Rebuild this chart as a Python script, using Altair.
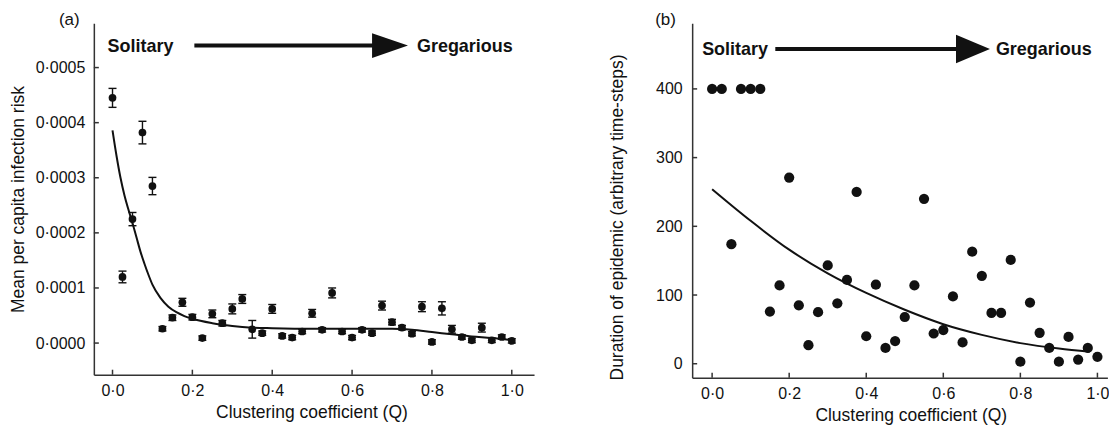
import altair as alt
import pandas as pd

# ---------------- data ----------------
clustering_q = [0.0, 0.025, 0.05, 0.075, 0.1, 0.125, 0.15, 0.175, 0.2, 0.225,
                0.25, 0.275, 0.3, 0.325, 0.35, 0.375, 0.4, 0.425, 0.45, 0.475,
                0.5, 0.525, 0.55, 0.575, 0.6, 0.625, 0.65, 0.675, 0.7, 0.725,
                0.75, 0.775, 0.8, 0.825, 0.85, 0.875, 0.9, 0.925, 0.95, 0.975, 1.0]

infection_risk = [0.000445, 0.000120, 0.000225, 0.000382, 0.000285, 0.000026, 0.000046,
                  0.000074, 0.000047, 0.000009, 0.000053, 0.000036, 0.000062, 0.000080,
                  0.000025, 0.000018, 0.000062, 0.000013, 0.000010, 0.000021, 0.000054,
                  0.000024, 0.000091, 0.000021, 0.000010, 0.000024, 0.000018, 0.000068,
                  0.000038, 0.000028, 0.000017, 0.000066, 0.000002, 0.000063, 0.000025,
                  0.000011, 0.000005, 0.000028, 0.000005, 0.000011, 0.000004]

risk_error = [0.0000172, 0.0000106, 0.000012, 0.0000205, 0.0000157, 0.000004, 0.000005,
              0.0000072, 0.000005, 0.000004, 0.000007, 0.000005, 0.000009, 0.000008,
              0.000016, 0.000004, 0.000008, 0.000004, 0.000004, 0.000004, 0.000007,
              0.000004, 0.000009, 0.000004, 0.000004, 0.000004, 0.000004, 0.000008,
              0.000005, 0.000004, 0.000004, 0.000009, 0.000004, 0.000012, 0.000007,
              0.000004, 0.000004, 0.000008, 0.000004, 0.000004, 0.000004]

epidemic_duration = [400, 400, 174, 400, 400, 400, 76, 114, 271, 85,
                     27, 75, 143, 88, 122, 250, 40, 115, 23, 33,
                     68, 114, 240, 44, 49, 98, 31, 163, 128, 74,
                     74, 151, 3, 89, 45, 23, 3, 39, 6, 23, 10]

fit_a_q = [0.0, 0.01, 0.02, 0.03, 0.04, 0.05, 0.06, 0.07, 0.08, 0.09, 0.1, 0.12, 0.14,
           0.16, 0.18, 0.2, 0.25, 0.3, 0.35, 0.4, 0.5, 0.6, 0.7, 0.75, 0.8, 0.85, 0.9,
           0.95, 1.0]
fit_a_risk = [0.000386, 0.000340, 0.000300, 0.000268, 0.000242, 0.000218, 0.000192,
              0.000166, 0.000144, 0.000124, 0.000106, 0.000082, 0.000066, 0.000056,
              0.000049, 0.000044, 0.000036, 0.000031, 0.000028, 0.000027, 0.000026,
              0.000026, 0.000026, 0.000024, 0.000020, 0.000016, 0.000012, 0.000009,
              0.000005]

fit_b_q = [0.0, 0.1, 0.2, 0.3, 0.4, 0.5, 0.6, 0.7, 0.8, 0.9, 0.98]
fit_b_duration = [254, 208, 166, 131.5, 103, 78.5, 57.5, 42, 30, 22, 17.5]

x_ticks = [0.0, 0.2, 0.4, 0.6, 0.8, 1.0]
y_ticks_a = [0.0, 0.0001, 0.0002, 0.0003, 0.0004, 0.0005]
y_ticks_b = [0, 100, 200, 300, 400]

annot_left = ["Solitary"]
annot_right = ["Gregarious"]
panel_a_tag = ["(a)"]
panel_b_tag = ["(b)"]

X_TITLE = "Clustering coefficient (Q)"
YA_TITLE = "Mean per capita infection risk"
YB_TITLE = "Duration of epidemic (arbitrary time-steps)"

FONT = "Liberation Sans"
INK = "#111111"
AX = "#333333"

WA, HA = 441, 352
WB, HB = 416, 355

xs_a = alt.Scale(domain=[-0.04675, 1.05575], nice=False, zero=False)
ys_a = alt.Scale(domain=[-0.00005743, 0.00058025], nice=False, zero=False)
xs_b = alt.Scale(domain=[-0.0518, 1.0259], nice=False, zero=False)
ys_b = alt.Scale(domain=[-20.34, 495.4], nice=False, zero=False)

dot_fmt1 = "replace(format(datum.value, '.1f'), '.', '·')"
dot_fmt4 = "replace(format(datum.value, '.4f'), '.', '·')"

ARROW = "M -1 -0.69 L 1 0 L -1 0.69 Z"
ARROW_B = "M -1 -0.84 L 1 0 L -1 0.84 Z"

axis_xa = alt.Axis(values=x_ticks, labelExpr=dot_fmt1, labelPadding=8, titlePadding=5,
                   tickSize=0, titleX=218)
axis_xb = alt.Axis(values=x_ticks, labelExpr=dot_fmt1, labelPadding=8, titlePadding=5,
                   tickSize=0, titleX=219)
axis_ya = alt.Axis(values=y_ticks_a, labelExpr=dot_fmt4, labelPadding=9, titlePadding=8,
                   tickSize=0)
axis_yb = alt.Axis(values=y_ticks_b, format="d", labelPadding=10, titlePadding=29,
                   tickSize=0, titleY=194)


def xf(field, scale, axis):
    return alt.X(field, type="quantitative", scale=scale, axis=axis, title=X_TITLE)


def yf(field, scale, title, axis):
    return alt.Y(field, type="quantitative", scale=scale, axis=axis, title=title)


def xd(val, scale, axis):
    return alt.XDatum(val, type="quantitative", scale=scale, axis=axis, title=X_TITLE)


def yd(val, scale, title, axis):
    return alt.YDatum(val, type="quantitative", scale=scale, axis=axis, title=title)


def one(label):
    return pd.DataFrame({"lab": label})


# ---------------- panel (a) ----------------
df_a = pd.DataFrame({
    "q": clustering_q,
    "risk": infection_risk,
    "lo": [r - e for r, e in zip(infection_risk, risk_error)],
    "hi": [r + e for r, e in zip(infection_risk, risk_error)],
})
df_fit_a = pd.DataFrame({"q": fit_a_q, "risk": fit_a_risk})

XA = dict(scale=xs_a, axis=axis_xa)

a_pts = alt.Chart(df_a).mark_circle(size=60, color=INK, opacity=1).encode(
    x=xf("q", **XA), y=yf("risk", ys_a, YA_TITLE, axis_ya))
a_err = alt.Chart(df_a).mark_rule(color=INK, strokeWidth=1.4).encode(
    x=xf("q", **XA), y=yf("lo", ys_a, YA_TITLE, axis_ya), y2="hi")
a_cap_lo = alt.Chart(df_a).mark_tick(orient="horizontal", size=8, thickness=1.4,
                                     color=INK, opacity=1).encode(
    x=xf("q", **XA), y=yf("lo", ys_a, YA_TITLE, axis_ya))
a_cap_hi = alt.Chart(df_a).mark_tick(orient="horizontal", size=8, thickness=1.4,
                                     color=INK, opacity=1).encode(
    x=xf("q", **XA), y=yf("hi", ys_a, YA_TITLE, axis_ya))
a_fit = alt.Chart(df_fit_a).mark_line(color=INK, strokeWidth=2, interpolate="monotone").encode(
    x=xf("q", **XA), y=yf("risk", ys_a, YA_TITLE, axis_ya))
a_xt = alt.Chart(pd.DataFrame({"t": x_ticks})).mark_rule(color=AX, strokeWidth=1.5).encode(
    x=xf("t", **XA), y=alt.value(HA), y2=alt.value(HA - 5))
a_yt = alt.Chart(pd.DataFrame({"t": y_ticks_a})).mark_rule(color=AX, strokeWidth=1.5).encode(
    y=yf("t", ys_a, YA_TITLE, axis_ya), x=alt.value(0), x2=alt.value(5))
a_sol = alt.Chart(one(annot_left)).mark_text(
    align="left", baseline="middle", font=FONT, fontWeight="bold", fontSize=18, color=INK
).encode(x=xd(-0.0125, **XA), y=yd(0.000538, ys_a, YA_TITLE, axis_ya), text="lab:N")
a_greg = alt.Chart(one(annot_right)).mark_text(
    align="left", baseline="middle", font=FONT, fontWeight="bold", fontSize=18, color=INK
).encode(x=xd(0.7625, **XA), y=yd(0.000538, ys_a, YA_TITLE, axis_ya), text="lab:N")
a_shaft = alt.Chart(one(annot_left)).mark_rule(color=INK, strokeWidth=4).encode(
    x=xd(0.205, **XA), x2=alt.X2Datum(0.695), y=yd(0.00054, ys_a, YA_TITLE, axis_ya))
a_head = alt.Chart(one(annot_left)).mark_point(
    shape=ARROW, filled=True, size=1296, color=INK, opacity=1, strokeWidth=0
).encode(x=xd(0.695, **XA), y=yd(0.00054, ys_a, YA_TITLE, axis_ya))
a_tag = alt.Chart(one(panel_a_tag)).mark_text(
    align="left", baseline="middle", font=FONT, fontSize=17, color=INK
).encode(x=alt.value(-35), y=alt.value(-3), text="lab:N")

panel_a = alt.layer(a_pts, a_fit, a_err, a_cap_lo, a_cap_hi, a_xt, a_yt, a_shaft, a_head,
                    a_sol, a_greg, a_tag).properties(width=WA, height=HA)

# ---------------- panel (b) ----------------
df_b = pd.DataFrame({"q": clustering_q, "dur": epidemic_duration})
df_fit_b = pd.DataFrame({"q": fit_b_q, "dur": fit_b_duration})

XB = dict(scale=xs_b, axis=axis_xb)

b_pts = alt.Chart(df_b).mark_circle(size=105, color=INK, opacity=1).encode(
    x=xf("q", **XB), y=yf("dur", ys_b, YB_TITLE, axis_yb))
b_fit = alt.Chart(df_fit_b).mark_line(color=INK, strokeWidth=2, interpolate="monotone").encode(
    x=xf("q", **XB), y=yf("dur", ys_b, YB_TITLE, axis_yb))
b_xt = alt.Chart(pd.DataFrame({"t": x_ticks})).mark_rule(color=AX, strokeWidth=1.5).encode(
    x=xf("t", **XB), y=alt.value(HB), y2=alt.value(HB - 5))
b_yt = alt.Chart(pd.DataFrame({"t": y_ticks_b})).mark_rule(color=AX, strokeWidth=1.5).encode(
    y=yf("t", ys_b, YB_TITLE, axis_yb), x=alt.value(0), x2=alt.value(5))
b_sol = alt.Chart(one(annot_left)).mark_text(
    align="left", baseline="middle", font=FONT, fontWeight="bold", fontSize=18, color=INK
).encode(x=xd(-0.0259, **XB), y=yd(457, ys_b, YB_TITLE, axis_yb), text="lab:N")
b_greg = alt.Chart(one(annot_right)).mark_text(
    align="left", baseline="middle", font=FONT, fontWeight="bold", fontSize=18, color=INK
).encode(x=xd(0.7365, **XB), y=yd(457, ys_b, YB_TITLE, axis_yb), text="lab:N")
b_shaft = alt.Chart(one(annot_left)).mark_rule(color=INK, strokeWidth=4).encode(
    x=xd(0.164, **XB), x2=alt.X2Datum(0.677), y=yd(458, ys_b, YB_TITLE, axis_yb))
b_head = alt.Chart(one(annot_left)).mark_point(
    shape=ARROW_B, filled=True, size=1156, color=INK, opacity=1, strokeWidth=0
).encode(x=xd(0.677, **XB), y=yd(458, ys_b, YB_TITLE, axis_yb))
b_tag = alt.Chart(one(panel_b_tag)).mark_text(
    align="left", baseline="middle", font=FONT, fontSize=17, color=INK
).encode(x=alt.value(-37), y=alt.value(-3), text="lab:N")

panel_b = alt.layer(b_pts, b_fit, b_xt, b_yt, b_shaft, b_head, b_sol, b_greg,
                    b_tag).properties(width=WB, height=HB)

chart = alt.hconcat(panel_a, panel_b, spacing=158.4, bounds="flush").properties(
    padding={"left": 1, "top": 3, "right": 0, "bottom": 0},
    background="white",
).configure_view(stroke=None).configure_axis(
    labelFont=FONT, titleFont=FONT, labelFontSize=16, titleFontSize=17.5,
    titleFontWeight="normal", labelColor=INK, titleColor=INK,
    domainColor=AX, domainWidth=1.5, grid=False,
)

chart.save("out.html", embed_options={"renderer": "svg", "actions": False})
